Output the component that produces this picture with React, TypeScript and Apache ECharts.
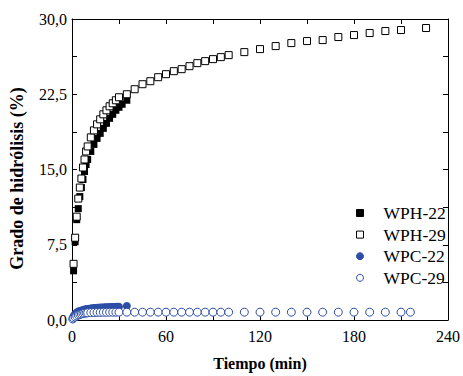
import React, { useEffect, useRef } from "react";
import * as echarts from "echarts";

const seriesNames = ["WPH-22", "WPH-29", "WPC-22", "WPC-29"];

const wph22: [number, number][] = [
  [1, 4.9], [2, 7.8], [3, 10.0], [4, 11.1], [5, 12.3], [6, 13.2], [7, 14.0], [8, 14.8],
  [9, 15.5], [10, 16.0], [12, 16.8], [14, 17.5], [16, 18.1], [18, 18.6], [20, 19.1],
  [22, 19.6], [24, 20.1], [26, 20.5], [28, 20.9], [30, 21.2], [32, 21.5], [35, 21.9],
];

const wph29: [number, number][] = [
  [1, 5.6], [2, 8.2], [3, 10.3], [4, 12.1], [5, 13.2], [6, 14.1], [7, 15.2], [8, 16.0],
  [9, 16.8], [10, 17.3], [12, 18.2], [14, 18.9], [16, 19.5], [18, 20.0], [20, 20.5],
  [22, 20.9], [24, 21.3], [26, 21.6], [28, 21.9], [30, 22.2], [35, 22.5], [40, 23.0],
  [45, 23.5], [50, 23.8], [55, 24.2], [60, 24.5], [65, 24.8], [70, 25.0], [75, 25.3],
  [80, 25.6], [85, 25.8], [90, 26.0], [95, 26.2], [100, 26.4], [110, 26.7], [120, 27.0],
  [130, 27.3], [140, 27.6], [150, 27.8], [160, 27.9], [170, 28.2], [180, 28.4],
  [190, 28.6], [200, 28.8], [210, 28.9], [226, 29.1],
];

const wpc22: [number, number][] = [
  [0.5, 0.2], [1, 0.4], [2, 0.6], [3, 0.75], [4, 0.85], [5, 0.9], [6, 0.95], [7, 1.0],
  [8, 1.05], [9, 1.08], [10, 1.1], [11, 1.12], [12, 1.15], [13, 1.17], [14, 1.18],
  [15, 1.2], [16, 1.21], [17, 1.22], [18, 1.23], [19, 1.24], [20, 1.25], [21, 1.26],
  [22, 1.27], [23, 1.27], [24, 1.28], [25, 1.29], [26, 1.3], [27, 1.3], [28, 1.31],
  [29, 1.32], [30, 1.32], [35, 1.4],
];

const wpc29: [number, number][] = [
  [0.5, 0.1], [1, 0.2], [2, 0.3], [3, 0.4], [4, 0.5], [5, 0.55], [6, 0.6], [7, 0.65],
  [8, 0.68], [9, 0.7], [10, 0.72], [12, 0.74], [14, 0.75], [16, 0.76], [18, 0.76],
  [20, 0.77], [22, 0.77], [24, 0.78], [26, 0.78], [28, 0.78], [30, 0.78], [35, 0.78],
  [40, 0.78], [45, 0.78], [50, 0.78], [55, 0.78], [60, 0.78], [65, 0.78], [70, 0.78],
  [75, 0.78], [80, 0.78], [85, 0.78], [90, 0.78], [95, 0.78], [100, 0.78], [110, 0.78],
  [120, 0.78], [130, 0.78], [140, 0.78], [150, 0.78], [160, 0.78], [170, 0.78],
  [180, 0.78], [190, 0.78], [200, 0.78], [210, 0.78], [216, 0.78],
];

const FONT = "Liberation Serif";
const BLUE = "#2d4ea6";

export default function App() {
  const ref = useRef<HTMLDivElement>(null);
  useEffect(() => {
    if (!ref.current) return;
    const chart = echarts.init(ref.current, null, { renderer: "svg" });
    const axisLine = { show: true, onZero: false, lineStyle: { color: "#000", width: 1 } };
    chart.setOption({
      animation: false,
      backgroundColor: "#fff",
      textStyle: { fontFamily: FONT },
      grid: { left: 72, right: 13, top: 19, bottom: 51 },
      legend: {
        orient: "vertical",
        left: 356,
        top: 204,
        padding: 0,
        itemWidth: 7,
        itemHeight: 7,
        itemGap: 3.6,
        itemStyle: { borderWidth: 1 },
        textStyle: { fontFamily: FONT, fontSize: 17.5, color: "#000", padding: [0, 0, 0, 15] },
        data: seriesNames,
      },
      xAxis: [
        {
          type: "value",
          min: 0,
          max: 240,
          interval: 60,
          position: "bottom",
          axisLine,
          axisTick: { show: true, inside: true, length: 5, lineStyle: { color: "#000" } },
          minorTick: { show: true, splitNumber: 2, length: 5, lineStyle: { color: "#000" } },
          splitLine: { show: false },
          axisLabel: { fontFamily: FONT, fontSize: 16, color: "#000", margin: 8 },
          name: "Tiempo (min)",
          nameLocation: "middle",
          nameGap: 35,
          nameTextStyle: { fontFamily: FONT, fontSize: 16, fontWeight: "bold", color: "#000" },
        },
        {
          type: "value",
          min: 0,
          max: 240,
          interval: 30,
          position: "top",
          axisLine,
          axisTick: { show: true, inside: true, length: 5, lineStyle: { color: "#000" } },
          splitLine: { show: false },
          axisLabel: { show: false },
        },
      ],
      yAxis: [
        {
          type: "value",
          min: 0,
          max: 30,
          interval: 7.5,
          position: "left",
          axisLine,
          axisTick: { show: true, inside: true, length: 5, lineStyle: { color: "#000" } },
          minorTick: { show: true, splitNumber: 2, length: 5, lineStyle: { color: "#000" } },
          splitLine: { show: false },
          axisLabel: {
            fontFamily: FONT,
            fontSize: 16,
            color: "#000",
            margin: 5,
            formatter: (v: number) => v.toFixed(1).replace(".", ","),
          },
          name: "Grado de hidrólisis (%)",
          nameLocation: "middle",
          nameGap: 46,
          nameTextStyle: {
            fontFamily: FONT,
            fontSize: 18,
            fontWeight: "bold",
            color: "#000",
            padding: [0, 18, 0, 0],
          },
        },
        {
          type: "value",
          min: 0,
          max: 30,
          interval: 3.75,
          position: "right",
          axisLine,
          axisTick: { show: true, inside: true, length: 5, lineStyle: { color: "#000" } },
          splitLine: { show: false },
          axisLabel: { show: false },
        },
      ],
      series: [
        {
          name: seriesNames[0],
          type: "scatter",
          symbol: "rect",
          symbolSize: 7,
          itemStyle: { color: "#000", borderColor: "#000", borderWidth: 0, opacity: 1 },
          data: wph22,
        },
        {
          name: seriesNames[1],
          type: "scatter",
          symbol: "rect",
          symbolSize: 7,
          itemStyle: { color: "#fff", borderColor: "#000", borderWidth: 1, opacity: 1 },
          data: wph29,
        },
        {
          name: seriesNames[2],
          type: "scatter",
          symbol: "circle",
          symbolSize: 8,
          itemStyle: { color: BLUE, borderColor: BLUE, borderWidth: 0, opacity: 1 },
          data: wpc22,
        },
        {
          name: seriesNames[3],
          type: "scatter",
          symbol: "circle",
          symbolSize: 8,
          itemStyle: { color: "#fff", borderColor: BLUE, borderWidth: 1, opacity: 1 },
          data: wpc29,
        },
      ],
    });
    return () => chart.dispose();
  }, []);
  return <div ref={ref} style={{ width: 463, height: 376, position: "absolute", left: 0, top: 0 }} />;
}
